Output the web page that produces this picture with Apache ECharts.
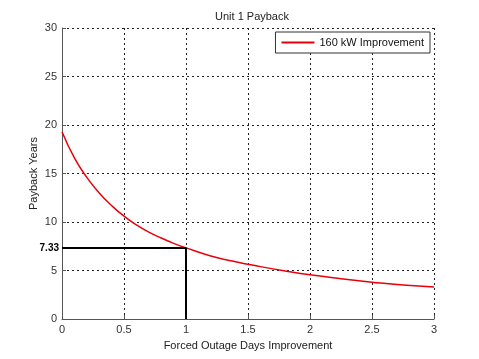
<!DOCTYPE html>
<html><head><meta charset="utf-8">
<script src="https://cdn.jsdelivr.net/npm/echarts@6/dist/echarts.min.js"></script>
<style>html,body{margin:0;padding:0;background:#fff}#c{width:479px;height:359px}</style>
</head><body><div id="c"></div>
<script>
const xValues = [0, 0.1, 0.2, 0.3, 0.4, 0.5, 0.6, 0.7, 0.8, 0.9, 1.0, 1.2, 1.4, 1.6, 1.8, 2.0, 2.25, 2.5, 2.75, 3.0];
const paybackYears = [19.3, 16.6, 14.6, 13.0, 11.7, 10.6, 9.7, 8.95, 8.35, 7.8, 7.33, 6.5, 5.9, 5.4, 4.95, 4.55, 4.15, 3.8, 3.5, 3.3];
const markerX = [0, 1, 1];
const markerY = [7.33, 7.33, 0];
const seriesName = '160 kW Improvement';

const chart = echarts.init(document.getElementById('c'), null, {renderer: 'canvas'});
const font = 'Liberation Sans, Arial, sans-serif';
chart.setOption({
  animation: false,
  backgroundColor: '#fff',
  title: {text: 'Unit 1 Payback', left: 247, top: 6, textAlign: 'center',
    textStyle: {fontSize: 11, fontWeight: 'normal', color: '#222', fontFamily: font}},
  legend: {
    data: [seriesName], right: 49, top: 32, orient: 'vertical',
    backgroundColor: '#fff', borderColor: '#333', borderWidth: 1, borderRadius: 0,
    padding: [5, 6, 5, 6], itemWidth: 33, itemHeight: 2, itemGap: 4,
    textStyle: {fontSize: 11, color: '#111', fontFamily: font},
    icon: 'rect'
  },
  grid: {left: 62, right: 45, top: 28, bottom: 40},
  xAxis: {
    type: 'value', min: 0, max: 3, interval: 0.5,
    name: 'Forced Outage Days Improvement', nameLocation: 'middle', nameGap: 21,
    nameMoveOverlap: false,
    nameTextStyle: {fontSize: 11, color: '#222', fontFamily: font},
    axisLine: {lineStyle: {color: '#555', width: 1}},
    axisTick: {inside: true, length: 4, lineStyle: {color: '#555'}},
    axisLabel: {fontSize: 11, color: '#333', fontFamily: font, margin: 5},
    splitLine: {show: true, lineStyle: {color: '#222', type: [2, 3], width: 1}}
  },
  yAxis: {
    type: 'value', min: 0, max: 30, interval: 5,
    name: 'Payback Years', nameLocation: 'middle', nameGap: 23,
    nameMoveOverlap: false,
    nameTextStyle: {fontSize: 11, color: '#222', fontFamily: font},
    axisLine: {lineStyle: {color: '#555', width: 1}},
    axisTick: {inside: true, length: 4, lineStyle: {color: '#555'}},
    axisLabel: {fontSize: 11, color: '#333', fontFamily: font, margin: 5},
    splitLine: {show: true, lineStyle: {color: '#222', type: [2, 3], width: 1}}
  },
  series: [
    {
      name: seriesName, type: 'line', smooth: true, showSymbol: false,
      data: xValues.map((x, i) => [x, paybackYears[i]]),
      lineStyle: {color: '#e8000b', width: 1.5}, itemStyle: {color: '#e8000b'}, z: 3
    },
    {
      name: 'marker', type: 'line', showSymbol: false, symbol: 'none',
      data: markerX.map((x, i) => [x, markerY[i]]),
      lineStyle: {color: '#000', width: 2}, z: 4,
      markPoint: {
        symbol: 'circle', symbolSize: 0,
        data: [{coord: [markerX[0], markerY[0]], value: '7.33'}],
        label: {show: true, position: 'left', distance: 3, formatter: '7.33',
          fontSize: 10, fontWeight: 'bold', color: '#000', fontFamily: font}
      }
    }
  ]
});
</script></body></html>
